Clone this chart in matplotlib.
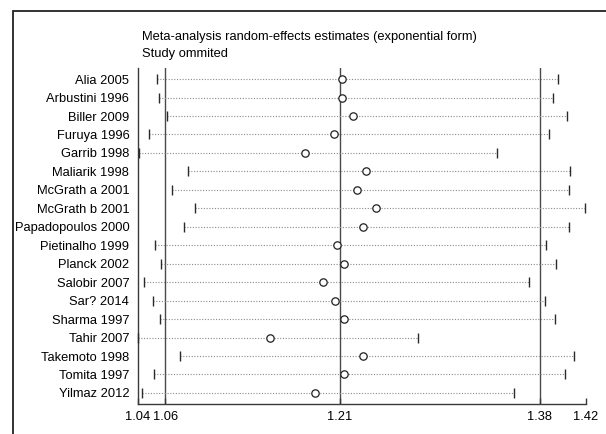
import numpy as np
import matplotlib
matplotlib.use("Agg")
import matplotlib.pyplot as plt
from matplotlib.patches import Rectangle

studies = ["Alia 2005", "Arbustini 1996", "Biller 2009", "Furuya 1996", "Garrib 1998",
           "Maliarik 1998", "McGrath a 2001", "McGrath b 2001", "Papadopoulos 2000",
           "Pietinalho 1999", "Planck 2002", "Salobir 2007", "Sar? 2014", "Sharma 1997",
           "Tahir 2007", "Takemoto 1998", "Tomita 1997", "Yilmaz 2012"]
lower = [1.0567, 1.0577, 1.0649, 1.0492, 1.0413, 1.0830, 1.0695, 1.0885, 1.0797,
         1.0544, 1.0597, 1.0452, 1.0528, 1.0587, 1.0400, 1.0758, 1.0538, 1.0436]
estimate = [1.2132, 1.2132, 1.2224, 1.2066, 1.1820, 1.2335, 1.2256, 1.2420, 1.2309,
            1.2089, 1.2152, 1.1971, 1.2070, 1.2148, 1.1525, 1.2309, 1.2152, 1.1906]
upper = [1.3962, 1.3926, 1.4041, 1.3887, 1.3444, 1.4067, 1.4057, 1.4198, 1.4057,
         1.3867, 1.3952, 1.3723, 1.3854, 1.3939, 1.2775, 1.4100, 1.4024, 1.3595]

# overall CI lower, estimate, CI upper
overall = [1.0633, 1.2113, 1.3812]
x_min, x_max = 1.04, 1.42
tick_vals = [x_min] + overall + [x_max]
tick_labels = ["1.04", "1.06", "1.21", "1.38", "1.42"]

plt.rcParams['font.family'] = ['Liberation Sans', 'DejaVu Sans']

fig = plt.figure(figsize=(6.06, 4.34), dpi=100)
ax = fig.add_axes([0.2272, 0.0691, 0.7393, 0.7742])

dark = '#3a3a3a'
y = np.arange(1, len(studies) + 1)

for v in overall:
    ax.axvline(v, color='#4a4a4a', lw=1.0, zorder=1)

for i in range(len(studies)):
    ax.plot([lower[i], upper[i]], [y[i], y[i]], color='#8a8a8a', lw=0.8,
            linestyle=(0, (1, 1.5)), zorder=2)
ax.plot(lower, y, '|', color='#2a2a2a', ms=6.5, mew=1.0, clip_on=False, zorder=3)
ax.plot(upper, y, '|', color='#2a2a2a', ms=6.5, mew=1.0, clip_on=False, zorder=3)
ax.plot(estimate, y, 'o', mfc='white', mec='#202020', ms=5.3, mew=0.9,
        clip_on=False, zorder=4)

ax.set_xlim(x_min, x_max)
ax.set_ylim(18.6, 0.4)
ax.set_yticks(y)
ax.set_yticklabels(studies, fontsize=9.3)
ax.set_xticks(tick_vals)
ax.set_xticklabels(tick_labels, fontsize=9.3)
ax.tick_params(axis='y', length=0, pad=6)
ax.tick_params(axis='x', direction='in', length=4.5, width=1.0, color=dark, pad=5)

for s in ['top', 'right']:
    ax.spines[s].set_visible(False)
for s in ['left', 'bottom']:
    ax.spines[s].set_color(dark)
    ax.spines[s].set_linewidth(1.0)

fig.text(0.2343, 0.9154, "Meta-analysis random-effects estimates (exponential form)",
         fontsize=9.3, va='center', ha='left')
fig.text(0.2343, 0.8756, "Study ommited", fontsize=9.3, va='center', ha='left')

# outer graph frame (cropped at right and bottom)
frame = Rectangle((12.7 / 606, -0.1), 1.2, 1 - 10.7 / 434 + 0.1,
                  transform=fig.transFigure, fill=False, edgecolor='#222222',
                  lw=1.3, clip_on=False)
fig.patches.append(frame)

fig.savefig("out.png", dpi=100)
